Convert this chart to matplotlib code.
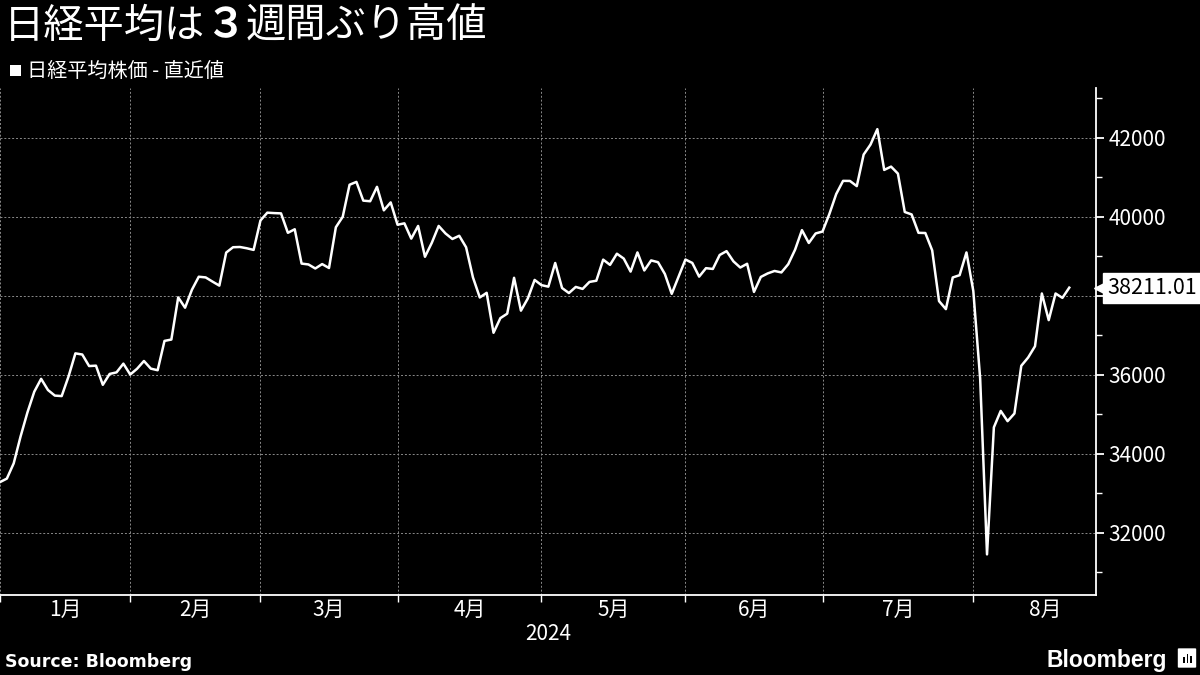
import matplotlib
matplotlib.use("Agg")
import matplotlib.pyplot as plt
from matplotlib.patches import Rectangle, FancyBboxPatch
import numpy as np

plt.rcParams['font.family'] = ['Noto Sans CJK JP', 'DejaVu Sans']

# Nikkei 225 daily closes, 2024 (trading days only)
jan = [33288, 33377, 33763, 34442, 35050, 35577, 35902, 35619, 35478, 35466,
       35963, 36547, 36518, 36226, 36236, 35751, 36027, 36066, 36287]
feb = [36011, 36158, 36354, 36161, 36120, 36863, 36897, 37964, 37703, 38158,
       38487, 38470, 38364, 38262, 39099, 39234, 39240, 39208, 39166]
mar = [39911, 40109, 40098, 40091, 39599, 39689, 38820, 38798, 38696, 38807,
       38708, 39740, 40004, 40816, 40888, 40414, 40398, 40763, 40168, 40369]
apr = [39803, 39839, 39452, 39773, 38992, 39347, 39773, 39582, 39443, 39524,
       39233, 38471, 37962, 38080, 37068, 37439, 37552, 38460, 37628, 37935,
       38406]
may = [38274, 38236, 38835, 38202, 38074, 38229, 38179, 38356, 38386, 38920,
       38787, 39070, 38947, 38617, 39103, 38646, 38900, 38855, 38557, 38054,
       38488]
jun = [38923, 38837, 38490, 38704, 38684, 39038, 39135, 38877, 38720, 38815,
       38102, 38482, 38571, 38633, 38596, 38805, 39173, 39667, 39342, 39583]
jul = [39631, 40075, 40581, 40914, 40912, 40781, 41580, 41832, 42224, 41191,
       41275, 41098, 40126, 40064, 39599, 39594, 39155, 37870, 37667, 38469,
       38526, 39102]
aug = [38126, 35910, 31458, 34675, 35090, 34831, 35025, 36233, 36442, 36727,
       38063, 37389, 38063, 37952, 38211.01]

month_labels = ["1月", "2月", "3月", "4月", "5月", "6月", "7月", "8月"]
month_trading_days = [19, 19, 20, 21, 21, 20, 22, 21]
y_ticks = [32000, 34000, 36000, 38000, 40000, 42000]
last_value = aug[-1]

values = np.array(jan + feb + mar + apr + may + jun + jul + aug, dtype=float)
x = np.arange(len(values))
month_starts = np.concatenate([[0], np.cumsum(month_trading_days)[:-1]])
month_centres = month_starts + np.array(month_trading_days) / 2.0

W, H = 1200, 675
fig = plt.figure(figsize=(W / 100, H / 100), dpi=100)
fig.patch.set_facecolor('black')

ax_left, ax_right, ax_top, ax_bottom = 0, 1096, 88, 595
ax = fig.add_axes([ax_left / W, 1 - ax_bottom / H,
                   (ax_right - ax_left) / W, (ax_bottom - ax_top) / H])
ax.set_facecolor('black')

ax.plot(x, values, color='white', lw=1.8, zorder=3)

ax.set_xlim(0, 159.9)
ax.set_ylim(30430, 43265)

for side in ['left', 'top']:
    ax.spines[side].set_visible(False)
for side in ['right', 'bottom']:
    ax.spines[side].set_color('white')
    ax.spines[side].set_linewidth(1.3)

ax.yaxis.tick_right()
ax.set_yticks(y_ticks)
ax.set_yticklabels([str(v) for v in y_ticks])
ax.set_yticks(np.arange(31000, 44000, 2000), minor=True)
ax.tick_params(axis='y', which='major', colors='white', length=6, width=1.3,
               labelsize=15, pad=3)
ax.tick_params(axis='y', which='minor', colors='white', length=4, width=1.0)

ax.set_xticks(month_starts)
ax.set_xticklabels([])
ax.set_xticks(month_centres, minor=True)
ax.set_xticklabels(month_labels, minor=True)
ax.tick_params(axis='x', which='major', colors='white', length=5, width=1.0)
ax.tick_params(axis='x', which='minor', colors='white', length=0,
               labelsize=15, pad=3)

ax.grid(which='major', color='#8a8a8a', ls=(0, (2, 2)), lw=0.7)

# last value label (sits over the 38000 tick label, as in the original)
ax.text(1.0 + 11 / 1096, last_value, f"{last_value:.2f}",
        transform=ax.get_yaxis_transform(),
        ha='left', va='center', color='black', fontsize=15.5, zorder=6,
        clip_on=False,
        bbox=dict(boxstyle='square,pad=0.18', fc='white', ec='white'))
ax.plot([1.0 + 4 / 1096], [last_value], marker='<', ms=9, color='white',
        transform=ax.get_yaxis_transform(), clip_on=False, zorder=6)

# titles
title_size = 29
em = title_size * 100 / 72
tx, ty = 4, 26
fig.text(tx / W, 1 - ty / H, "日経平均は", color='white', fontsize=title_size,
         ha='left', va='center')
fig.text((tx + 5 * em) / W, 1 - ty / H, "３", color='white', fontsize=title_size,
         fontweight='bold', ha='left', va='center')
fig.text((tx + 6 * em) / W, 1 - ty / H, "週間ぶり高値", color='white',
         fontsize=title_size, ha='left', va='center')

fig.patches.append(Rectangle((10 / W, 1 - 76 / H), 11 / W, 11 / H,
                             transform=fig.transFigure, fc='white', ec='none'))
fig.text(27 / W, 1 - 71 / H, "日経平均株価 - 直近値", color='white',
         fontsize=14.5, ha='left', va='center')

fig.text(548 / W, 1 - 634 / H, "2024", color='white', fontsize=15,
         ha='center', va='center')

# footer
fig.text(5 / W, 1 - 662 / H, "Source: Bloomberg", color='white',
         fontsize=12.5, fontweight='bold', family='DejaVu Sans',
         ha='left', va='center')
fig.text(1047 / W, 1 - 660 / H, "Bloomberg", color='white', fontsize=16.5,
         fontweight='bold', family='Liberation Sans', ha='left', va='center')
fig.patches.append(FancyBboxPatch((1179 / W, 1 - 667 / H), 16 / W, 18 / H,
                                  boxstyle='round,pad=0.001',
                                  transform=fig.transFigure, fc='white', ec='none'))
for bx, bh in [(1183, 6), (1186.5, 9), (1190, 7)]:
    fig.patches.append(Rectangle((bx / W, 1 - 663 / H), 1.8 / W, bh / H,
                                 transform=fig.transFigure, fc='black', ec='none'))

fig.savefig("out.png", dpi=100, facecolor='black')
